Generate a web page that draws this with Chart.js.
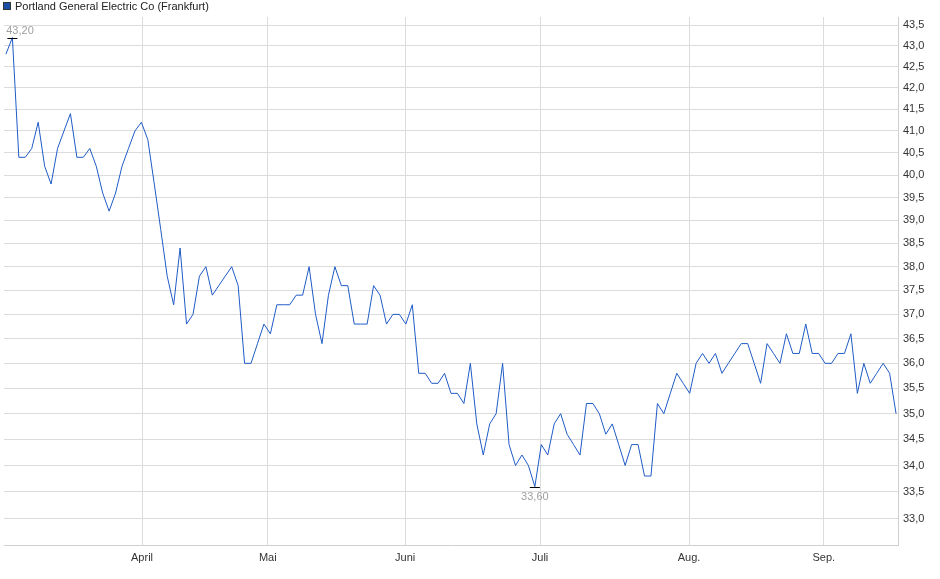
<!DOCTYPE html>
<html><head><meta charset="utf-8">
<script src="https://cdn.jsdelivr.net/npm/chart.js@4"></script>
<style>html,body{margin:0;padding:0;background:#fff}#w{width:940px;height:579px}</style>
</head><body><div id="w"><canvas id="c"></canvas></div>
<script>
const seriesName = "Portland General Electric Co (Frankfurt)";
const prices = [42.8,43.2,40.4,40.4,40.6,41.2,40.2,39.8,40.6,41.0,41.4,40.4,40.4,40.6,40.2,39.6,39.2,39.6,40.2,40.6,41.0,41.2,40.8,39.8,38.8,37.8,37.2,38.4,36.8,37.0,37.8,38.0,37.4,37.6,37.8,38.0,37.6,36.0,36.0,36.4,36.8,36.6,37.2,37.2,37.2,37.4,37.4,38.0,37.0,36.4,37.4,38.0,37.6,37.6,36.8,36.8,36.8,37.6,37.4,36.8,37.0,37.0,36.8,37.2,35.8,35.8,35.6,35.6,35.8,35.4,35.4,35.2,36.0,34.8,34.2,34.8,35.0,36.0,34.4,34.0,34.2,34.0,33.6,34.4,34.2,34.8,35.0,34.6,34.4,34.2,35.2,35.2,35.0,34.6,34.8,34.4,34.0,34.4,34.4,33.8,33.8,35.2,35.0,35.4,35.8,35.6,35.4,36.0,36.2,36.0,36.2,35.8,36.0,36.2,36.4,36.4,36.0,35.6,36.4,36.2,36.0,36.6,36.2,36.2,36.8,36.2,36.2,36.0,36.0,36.2,36.2,36.6,35.4,36.0,35.6,35.8,36.0,35.8,35.0];
const monthLabels = ["April","Mai","Juni","Juli","Aug.","Sep."];
const monthPositions = [21.1,40.6,61.9,82.8,105.9,126.8];
const yTicks = [33.0,33.5,34.0,34.5,35.0,35.5,36.0,36.5,37.0,37.5,38.0,38.5,39.0,39.5,40.0,40.5,41.0,41.5,42.0,42.5,43.0,43.5];

const pts = prices.map((v,i)=>({x:i,y:v}));
const fmt = v => v.toFixed(2).replace('.',',');
const overlay = {
  id:'overlay',
  afterDraw(chart){
    const ctx=chart.ctx, xs=chart.scales.x, ys=chart.scales.y;
    ctx.save();
    ctx.fillStyle='#1a4fa8'; ctx.fillRect(3,2,8,8);
    ctx.strokeStyle='#333'; ctx.lineWidth=1; ctx.strokeRect(3.5,2.5,7,7);
    ctx.fillStyle='#222'; ctx.font='11px "Liberation Sans", Arial, sans-serif';
    ctx.textBaseline='middle'; ctx.textAlign='left';
    ctx.fillText(seriesName,15,6.5);
    let mi=0, ma=0;
    prices.forEach((v,i)=>{ if(v>prices[ma]) ma=i; if(v<prices[mi]) mi=i; });
    ctx.strokeStyle='#000';
    const hx=xs.getPixelForValue(ma), hy=Math.round(ys.getPixelForValue(prices[ma]))+0.5;
    ctx.beginPath(); ctx.moveTo(hx-5,hy); ctx.lineTo(hx+5,hy); ctx.stroke();
    const lx=xs.getPixelForValue(mi), ly=Math.round(ys.getPixelForValue(prices[mi]))+0.5;
    ctx.beginPath(); ctx.moveTo(lx-5,ly); ctx.lineTo(lx+5,ly); ctx.stroke();
    ctx.fillStyle='#a0a0a0'; ctx.textAlign='center';
    ctx.textBaseline='bottom'; ctx.fillText(fmt(prices[ma]),Math.max(hx,20),hy-2);
    ctx.textBaseline='top'; ctx.fillText(fmt(prices[mi]),lx,ly+4);
    ctx.restore();
  }
};
new Chart(document.getElementById('c'),{
  type:'line',
  data:{datasets:[{data:pts,borderColor:'#1f5bc6',borderWidth:1,pointRadius:0,tension:0,fill:false}]},
  options:{
    responsive:true,maintainAspectRatio:false,animation:false,
    layout:{padding:{top:17,left:4,right:0,bottom:0}},
    plugins:{legend:{display:false},tooltip:{enabled:false}},
    scales:{
      x:{type:'linear',min:-0.3,max:138.3,
        afterBuildTicks(s){s.ticks=monthPositions.map(v=>({value:v}));},
        afterFit(s){s.height=34;},
        grid:{color:'#dcdcdc',drawTicks:false},
        border:{color:'#cfcfcf'},
        ticks:{padding:6,color:'#333',font:{size:11,family:'"Liberation Sans", Arial, sans-serif'},maxRotation:0,
          callback(v){const i=monthPositions.indexOf(v);return i>=0?monthLabels[i]:'';}}},
      y:{type:'logarithmic',position:'right',min:32.52,max:43.7,
        afterBuildTicks(s){s.ticks=yTicks.map(v=>({value:v}));},
        afterFit(s){s.width=42;},
        grid:{color:'#dcdcdc',drawTicks:false},
        border:{color:'#cfcfcf'},
        ticks:{padding:5,color:'#333',font:{size:11,family:'"Liberation Sans", Arial, sans-serif'},
          callback(v){return v.toFixed(1).replace('.',',');}}}
    }
  },
  plugins:[overlay]
});
</script></body></html>
